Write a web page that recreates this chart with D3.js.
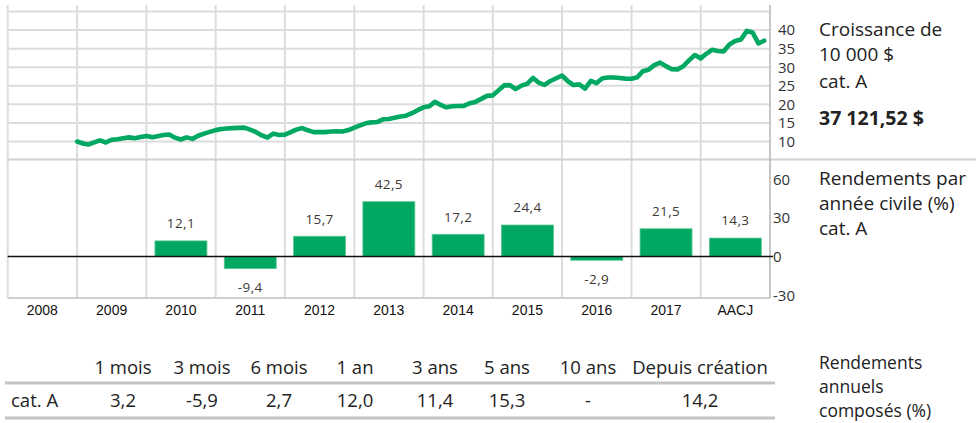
<!DOCTYPE html>
<html><head><meta charset="utf-8">
<script src="https://cdn.jsdelivr.net/npm/d3@7"></script>
<style>body{margin:0;background:#fff;} svg{display:block;}</style>
</head><body>
<svg id="c" width="976" height="423"></svg>
<script>
// ---------- data ----------
const years = ["2008","2009","2010","2011","2012","2013","2014","2015","2016","2017","AACJ"];
const annualReturns = [null,null,12.1,-9.4,15.7,42.5,17.2,24.4,-2.9,21.5,14.3];
const growthStartYear = 2009;   // first monthly point: Jan 2009
const growthValues = [ // thousands of $, monthly
 10.0, 9.46, 9.19, 9.76, 10.30, 9.73, 10.43, 10.60, 10.90, 11.11, 10.90, 11.22,
 11.49, 11.17, 11.44, 11.74, 11.90, 11.03, 10.54, 11.11, 10.71, 11.55, 12.12, 12.60,
 13.06, 13.36, 13.50, 13.60, 13.66, 13.74, 13.20, 12.58, 11.63, 11.08, 12.12, 11.75,
 11.85, 12.52, 13.20, 13.63, 13.01, 12.52, 12.52, 12.52, 12.69, 12.77, 12.71, 13.09,
 13.72, 14.34, 14.91, 15.15, 15.23, 15.97, 16.05, 16.37, 16.73, 16.94, 17.62, 18.43,
 19.20, 19.50, 20.66, 19.85, 19.20, 19.47, 19.55, 19.57, 20.30, 20.66, 21.47, 22.29,
 22.42, 23.83, 25.10, 25.19, 24.10, 25.05, 25.54, 27.11, 25.81, 25.22, 26.30, 27.03,
 27.74, 26.22, 25.19, 25.38, 24.24, 26.30, 25.73, 27.03, 27.25, 27.25, 27.09, 26.92,
 26.90, 27.30, 28.90, 29.34, 30.56, 31.24, 30.29, 29.47, 29.42, 30.26, 31.91, 33.27,
 32.38, 33.68, 34.68, 34.38, 34.22, 36.12, 37.07, 37.47, 39.78, 39.37, 36.39, 37.12
];
const growthTicks = [10,15,20,25,30,35,40];
const growthGrid = [10,15,20,25,30,35,40,45];
const returnTicks = [60,30,0,-30];
const periodHeaders = ["1 mois","3 mois","6 mois","1 an","3 ans","5 ans","10 ans","Depuis création"];
const periodValues = [3.2,-5.9,2.7,12.0,11.4,15.3,null,14.2];
const rowLabel = "cat. A";
const growthLabel = ["Croissance de","10 000 $","cat. A"];
const finalValueLabel = "37 121,52 $";
const returnsLabel = ["Rendements par","année civile (%)","cat. A"];
const compoundLabel = ["Rendements","annuels","composés (%)"];

// ---------- layout ----------
const L = 7.7, R = 770;
const topY0 = 5, barY1 = 298;
const colCenters = [123,202,279,355,435,507,588,700];
const green = "#00a862", grid = "#dcdcdc", textCol = "#333";
const sans = "'Open Sans', 'Noto Sans', sans-serif";
const loc = d3.formatLocale({decimal:",", thousands:" ", grouping:[3], currency:["","$"], minus:"-"});
const f1 = loc.format(".1f");

const svg = d3.select("#c");

// scales
const x = d3.scaleTime().domain([new Date(2008,0,1), new Date(2019,0,1)]).range([L, R]);
const yTop = d3.scaleLinear().domain([10,45]).range([141.5,11.5]);
const xBand = d3.scaleBand().domain(years).range([L, R]).paddingInner(0.25).paddingOuter(0.125);
const yBar = d3.scaleLinear().domain([0,60]).range([256.5,179.1]);

// grid: horizontal top
svg.append("g").selectAll("line").data(growthGrid).join("line")
  .attr("x1", L).attr("x2", R).attr("y1", d=>yTop(d)).attr("y2", d=>yTop(d))
  .attr("stroke", grid).attr("stroke-width", 2);
// vertical grid
const bounds = d3.range(0, years.length).map(i => x(new Date(2008+i,0,1)));
svg.append("g").selectAll("line").data(bounds).join("line")
  .attr("x1", d=>d).attr("x2", d=>d).attr("y1", topY0).attr("y2", barY1)
  .attr("stroke", grid).attr("stroke-width", 2);
// separator & bottom
svg.append("line").attr("x1", L).attr("x2", 976).attr("y1", 159.5).attr("y2", 159.5)
  .attr("stroke", "#d0d0d0").attr("stroke-width", 2);
svg.append("line").attr("x1", L).attr("x2", R).attr("y1", barY1).attr("y2", barY1)
  .attr("stroke", "#d0d0d0").attr("stroke-width", 2);
// right axis line
svg.append("line").attr("x1", R).attr("x2", R).attr("y1", topY0).attr("y2", barY1)
  .attr("stroke", "#b4b4b4").attr("stroke-width", 1.5);

// growth line
const pts = growthValues.map((v,i)=>({d: d3.timeMonth.offset(new Date(growthStartYear,0,1), i), v}));
svg.append("path").datum(pts)
  .attr("d", d3.line().x(p=>x(p.d)).y(p=>yTop(p.v)))
  .attr("fill","none").attr("stroke", green).attr("stroke-width", 4.6)
  .attr("stroke-linejoin","round").attr("stroke-linecap","round");

// top axis labels
svg.append("g").selectAll("text").data(growthTicks).join("text")
  .attr("x", 778).attr("y", d=>yTop(d)).attr("dy","0.36em")
  .attr("font-family", sans).attr("font-size", 15).attr("fill", textCol)
  .text(d=>d);

// bars
const barData = years.map((y,i)=>({y, v: annualReturns[i]})).filter(d=>d.v!=null);
svg.append("g").selectAll("rect").data(barData).join("rect")
  .attr("x", d=>xBand(d.y)).attr("width", xBand.bandwidth())
  .attr("y", d=>Math.min(yBar(d.v), yBar(0))).attr("height", d=>Math.abs(yBar(d.v)-yBar(0)))
  .attr("fill", green).attr("stroke", "#5cc795").attr("stroke-width", 0.8);
svg.append("g").selectAll("text").data(barData).join("text")
  .attr("x", d=>xBand(d.y)+xBand.bandwidth()/2)
  .attr("y", d=> d.v>=0 ? yBar(d.v)-17.5 : yBar(d.v)+18.5).attr("dy","0.36em")
  .attr("text-anchor","middle").attr("font-family", sans).attr("font-size", 13.5)
  .attr("letter-spacing", 0.4)
  .attr("fill", "#3d3a36").text(d=>f1(d.v));
// zero line
svg.append("line").attr("x1", L).attr("x2", R+3).attr("y1", yBar(0)).attr("y2", yBar(0))
  .attr("stroke", "#111").attr("stroke-width", 1.5);
// bar axis labels
svg.append("g").selectAll("text").data(returnTicks).join("text")
  .attr("x", 773).attr("y", d=>yBar(d)).attr("dy","0.36em")
  .attr("font-family", sans).attr("font-size", 15).attr("fill", textCol)
  .text(d=>d);
// year labels
svg.append("g").selectAll("text").data(years).join("text")
  .attr("x", d=>xBand(d)+xBand.bandwidth()/2).attr("y", 315)
  .attr("text-anchor","middle").attr("font-family","'Liberation Sans', Arial, sans-serif")
  .attr("font-size", 14).attr("fill", "#111").text(d=>d);

// right labels
function block(lines, ys, opts={}) {
  svg.append("g").selectAll("text").data(lines).join("text")
    .attr("x", 819).attr("y", (d,i)=>ys[i]).attr("dy","0.36em")
    .attr("font-family", sans).attr("font-size", opts.size||19)
    .attr("font-weight", opts.weight||400).attr("fill", "#222").text(d=>d);
}
block(growthLabel, [29, 54, 81]);
block([finalValueLabel], [118], {weight:700, size:19.5});
block(returnsLabel, [178, 203, 228]);
block(compoundLabel, [363, 387, 411], {size:17.5});

// table
svg.append("g").selectAll("text").data(periodHeaders).join("text")
  .attr("x", (d,i)=>colCenters[i]).attr("y", 367).attr("dy","0.36em")
  .attr("text-anchor","middle").attr("font-family", sans).attr("font-size", 18.5)
  .attr("fill", "#222").text(d=>d);
svg.append("line").attr("x1", 5).attr("x2", 775).attr("y1", 383).attr("y2", 383)
  .attr("stroke", "#c4c4c4").attr("stroke-width", 3);
svg.append("text").attr("x", 11).attr("y", 400).attr("dy","0.36em")
  .attr("font-family", sans).attr("font-size", 18.5).attr("fill", "#222").text(rowLabel);
svg.append("g").selectAll("text").data(periodValues).join("text")
  .attr("x", (d,i)=>colCenters[i]).attr("y", 400).attr("dy","0.36em")
  .attr("text-anchor","middle").attr("font-family", sans).attr("font-size", 18.5)
  .attr("fill", "#222").text(d=> d==null ? "-" : f1(d));
svg.append("line").attr("x1", 5).attr("x2", 775).attr("y1", 418).attr("y2", 418)
  .attr("stroke", "#c4c4c4").attr("stroke-width", 3);
</script>
</body></html>
